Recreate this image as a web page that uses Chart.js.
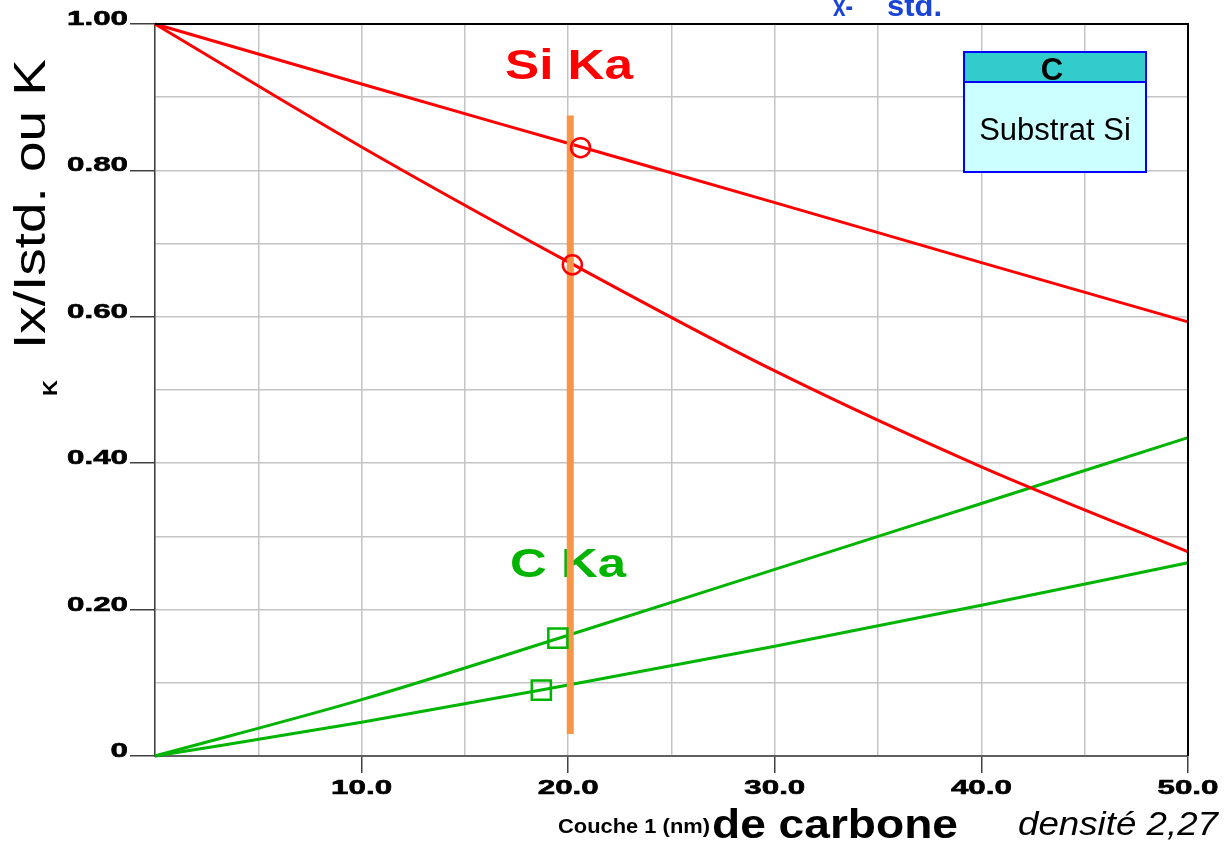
<!DOCTYPE html>
<html>
<head>
<meta charset="utf-8">
<script src="https://cdn.jsdelivr.net/npm/chart.js@4/dist/chart.umd.min.js"></script>
<style>
  html, body { margin: 0; padding: 0; background: #fff; }
  #wrap { width: 1225px; height: 841px; }
</style>
</head>
<body>
<div id="wrap"><canvas id="chart" width="1225" height="841"></canvas></div>
<script>
// Data
const thickness = [0, 10, 20, 30, 40, 50];              // Couche 1 (nm)
const siKaUpper = [1.000, 0.918, 0.837, 0.756, 0.674, 0.593];
const siKaLower = [1.000, 0.832, 0.675, 0.526, 0.395, 0.279];
const cKaUpper  = [0.000, 0.077, 0.165, 0.255, 0.345, 0.435];
const cKaLower  = [0.000, 0.046, 0.097, 0.150, 0.206, 0.264];

const siMarkX = [20.6, 20.2];
const siMarkY = [0.831, 0.671];
const cMarkX  = [19.5, 18.7];
const cMarkY  = [0.161, 0.090];

const measureX = 20.1;
const measureY = [0.03, 0.875];

const RED = '#ff0000';
const GREEN = '#00b400';
const ORANGE = '#f79646';
const ARIAL = '"Liberation Sans", Arial, sans-serif';

const pts = (xs, ys) => xs.map((x, i) => ({ x: x, y: ys[i] }));

// draw text stretched horizontally to a target width
function fitText(ctx, text, x, y, font, width, align, stroke) {
    ctx.save();
    ctx.font = font;
    const w = ctx.measureText(text).width;
    ctx.translate(x, y);
    ctx.scale(width / w, 1);
    ctx.textAlign = align || 'left';
    ctx.fillText(text, 0, 0);
    if (stroke) {
        ctx.lineWidth = stroke;
        ctx.strokeStyle = ctx.fillStyle;
        ctx.strokeText(text, 0, 0);
    }
    ctx.restore();
}

const isMajorY = v => Math.abs(v * 5 - Math.round(v * 5)) < 1e-6;
const isMajorX = v => Math.abs(v / 10 - Math.round(v / 10)) < 1e-6;

const textPlugin = {
    id: 'texts',
    beforeDatasetsDraw(chart) {
        const ctx = chart.ctx;
        ctx.save();
        ctx.textBaseline = 'alphabetic';
        ctx.fillStyle = RED;
        fitText(ctx, 'Si Ka', 569, 79, 'bold 43px ' + ARIAL, 128, 'center');
        ctx.fillStyle = GREEN;
        fitText(ctx, 'C Ka', 568, 577, 'bold 40px ' + ARIAL, 116, 'center');
        ctx.restore();
    },
    afterDraw(chart) {
        const ctx = chart.ctx;
        const a = chart.chartArea;
        const xs = chart.scales.x, ys = chart.scales.y;
        ctx.save();

        // frame top and right
        ctx.strokeStyle = '#000';
        ctx.lineWidth = 2;
        ctx.beginPath();
        ctx.moveTo(a.left, a.top);
        ctx.lineTo(a.right, a.top);
        ctx.lineTo(a.right, a.bottom);
        ctx.stroke();

        // tick labels
        ctx.fillStyle = '#000';
        ctx.textBaseline = 'alphabetic';
        const tickFont = 'bold 20px ' + ARIAL;
        ctx.font = tickFont;
        const sx = 61 / ctx.measureText('10.0').width;
        xs.ticks.forEach(t => {
            if (t.value > 0 && isMajorX(t.value)) {
                const lbl = t.value.toFixed(1);
                ctx.font = tickFont;
                const w = ctx.measureText(lbl).width * sx;
                fitText(ctx, lbl, xs.getPixelForValue(t.value), 794, tickFont, w, 'center', 0.6);
            }
        });
        ys.ticks.forEach(t => {
            if (isMajorY(t.value)) {
                const lbl = Math.abs(t.value) < 1e-9 ? '0' : t.value.toFixed(2);
                ctx.font = tickFont;
                const w = ctx.measureText(lbl).width * sx;
                fitText(ctx, lbl, 128, ys.getPixelForValue(t.value) + 1, tickFont, w, 'right', 0.6);
            }
        });

        // axis titles
        ctx.save();
        ctx.translate(45, 204);
        ctx.rotate(-Math.PI / 2);
        fitText(ctx, 'Ix/Istd. ou K', 0, 0, '44px ' + ARIAL, 290, 'center');
        ctx.restore();

        ctx.save();
        ctx.translate(57, 388);
        ctx.rotate(-Math.PI / 2);
        fitText(ctx, 'K', 0, 0, 'bold 20px ' + ARIAL, 16, 'center');
        ctx.restore();

        fitText(ctx, 'Couche 1 (nm)', 558, 833, 'bold 21px ' + ARIAL, 152, 'left');
        fitText(ctx, 'de carbone', 712, 838, 'bold 40px ' + ARIAL, 246, 'left');
        fitText(ctx, 'densité 2,27', 1018, 835, 'italic 34px ' + ARIAL, 200, 'left');

        // clipped title fragment at the top
        ctx.fillStyle = '#1a44d8';
        fitText(ctx, 'x-', 833, 16, 'bold 30px ' + ARIAL, 20, 'left');
        fitText(ctx, 'std.', 887, 16, 'bold 30px ' + ARIAL, 55, 'left');

        // layer legend box
        ctx.fillStyle = '#ccffff';
        ctx.fillRect(964, 82, 182, 90);
        ctx.fillStyle = '#33cccc';
        ctx.fillRect(964, 52, 182, 30);
        ctx.strokeStyle = '#0000ff';
        ctx.lineWidth = 2;
        ctx.strokeRect(964, 52, 182, 120);
        ctx.beginPath();
        ctx.moveTo(964, 82);
        ctx.lineTo(1146, 82);
        ctx.stroke();
        ctx.fillStyle = '#000';
        ctx.font = 'bold 31px ' + ARIAL;
        ctx.textAlign = 'center';
        ctx.fillText('C', 1052, 80);
        ctx.font = '31px ' + ARIAL;
        ctx.fillText('Substrat Si', 1055, 140);

        ctx.restore();
    }
};

const lineStyle = (color) => ({
    showLine: true,
    borderColor: color,
    borderWidth: 3,
    pointRadius: 0,
    cubicInterpolationMode: 'monotone',
    fill: false
});

new Chart(document.getElementById('chart'), {
    type: 'scatter',
    data: {
        datasets: [
            { data: pts(siMarkX, siMarkY), pointStyle: 'circle', pointRadius: 9.5, borderWidth: 2.5,
              borderColor: RED, backgroundColor: 'rgba(0,0,0,0)', order: 0 },
            { data: pts(cMarkX, cMarkY), pointStyle: 'rect', pointRadius: 13.5, borderWidth: 2.5,
              borderColor: GREEN, backgroundColor: 'rgba(0,0,0,0)', order: 0 },
            { data: pts([measureX, measureX], measureY), showLine: true, borderColor: ORANGE,
              borderWidth: 7, borderCapStyle: 'butt', pointRadius: 0, order: 1 },
            Object.assign({ data: pts(thickness, siKaUpper), order: 2 }, lineStyle(RED)),
            Object.assign({ data: pts(thickness, siKaLower), order: 2 }, lineStyle(RED)),
            Object.assign({ data: pts(thickness, cKaUpper), order: 2 }, lineStyle(GREEN)),
            Object.assign({ data: pts(thickness, cKaLower), order: 2 }, lineStyle(GREEN))
        ]
    },
    options: {
        responsive: false,
        animation: false,
        clip: false,
        layout: { padding: { top: 24, right: 37, left: 0, bottom: 0 } },
        plugins: { legend: { display: false }, tooltip: { enabled: false } },
        scales: {
            x: {
                type: 'linear', min: 0, max: 50,
                ticks: { stepSize: 5, display: false },
                grid: {
                    color: '#c4c4c4', lineWidth: 1.5, tickLength: 17,
                    tickColor: c => (c.tick && isMajorX(c.tick.value) && c.tick.value > 0) ? '#404040' : 'rgba(0,0,0,0)',
                    tickWidth: 1.5
                },
                border: { color: '#606060', width: 2 },
                afterFit: s => { s.height = 85; }
            },
            y: {
                type: 'linear', min: 0, max: 1,
                ticks: { stepSize: 0.1, display: false },
                grid: {
                    color: '#c4c4c4', lineWidth: 1.5, tickLength: 25,
                    tickColor: c => (c.tick && isMajorY(c.tick.value)) ? '#404040' : 'rgba(0,0,0,0)',
                    tickWidth: 1.5
                },
                border: { color: '#404040', width: 1.5 },
                afterFit: s => { s.width = 155; }
            }
        }
    },
    plugins: [textPlugin]
});
</script>
</body>
</html>
